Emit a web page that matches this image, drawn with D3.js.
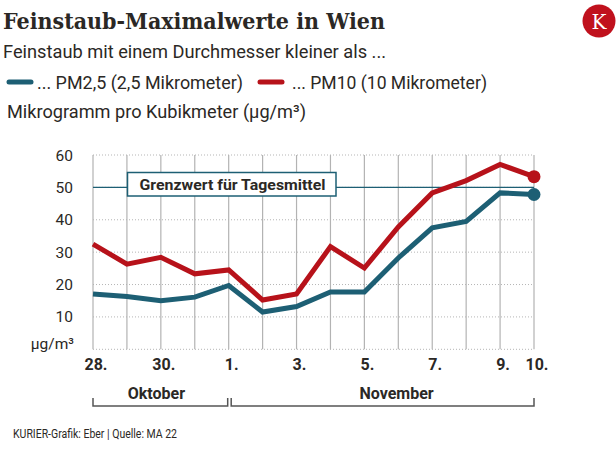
<!DOCTYPE html>
<html><head><meta charset="utf-8">
<script src="https://cdn.jsdelivr.net/npm/d3@7/dist/d3.min.js"></script>
<style>
html,body{margin:0;padding:0;background:#fff;}
svg{display:block;}
</style></head>
<body>
<svg id="chart" width="616" height="450"></svg>
<script>
const days = ["28.","29.","30.","31.","1.","2.","3.","4.","5.","6.","7.","8.","9.","10."];
const labeledDays = ["28.","30.","1.","3.","5.","7.","9.","10."];
const pm25 = [17.1, 16.3, 15.0, 16.1, 19.7, 11.5, 13.2, 17.7, 17.7, 28.2, 37.5, 39.5, 48.3, 47.8];
const pm10 = [32.5, 26.3, 28.4, 23.3, 24.5, 15.2, 17.1, 31.7, 25.1, 37.8, 48.3, 52.1, 57.1, 53.3];
const yTicks = [10, 20, 30, 40, 50, 60];
const limitValue = 50;
const months = [{name:"Oktober", from:0, to:4}, {name:"November", from:4, to:13}];

const TEAL = "#1d5f74", RED = "#b7121a", TXT = "#2b2825";
const svg = d3.select("#chart");

const x = d3.scalePoint().domain(d3.range(days.length)).range([93, 534]);
const y = d3.scaleLinear().domain([0, 60]).range([349.3, 155]);

function fitText(sel, w){ sel.attr("textLength", w).attr("lengthAdjust", "spacingAndGlyphs"); return sel; }

// Header
fitText(svg.append("text").attr("x", 3).attr("y", 29)
  .attr("font-family", "DejaVu Serif").attr("font-weight", "bold").attr("font-size", 22.5)
  .attr("fill", TXT).text("Feinstaub-Maximalwerte in Wien"), 382);
fitText(svg.append("text").attr("x", 3).attr("y", 58)
  .attr("font-family", "Roboto").attr("font-size", 18.5).attr("fill", TXT)
  .text("Feinstaub mit einem Durchmesser kleiner als ..."), 383);

// logo
svg.append("circle").attr("cx", 599).attr("cy", 21).attr("r", 16.5).attr("fill", "#c0111d");
svg.append("text").attr("x", 599).attr("y", 28.5).attr("text-anchor", "middle")
  .attr("font-family", "DejaVu Serif").attr("font-size", 20).attr("fill", "#fff").text("K");

// legend
const legend = [{label:"... PM2,5 (2,5 Mikrometer)", color:TEAL, x0:7, tx:37, w:206},
                {label:"... PM10 (10 Mikrometer)", color:RED, x0:258, tx:292, w:195}];
legend.forEach(l => {
  svg.append("line").attr("x1", l.x0 + 2).attr("x2", l.x0 + 24).attr("y1", 82).attr("y2", 82)
    .attr("stroke", l.color).attr("stroke-width", 5).attr("stroke-linecap", "round");
  fitText(svg.append("text").attr("x", l.tx).attr("y", 89)
    .attr("font-family", "Roboto").attr("font-size", 18.5).attr("fill", TXT).text(l.label), l.w);
});
fitText(svg.append("text").attr("x", 7).attr("y", 118)
  .attr("font-family", "Roboto").attr("font-size", 18.5).attr("fill", TXT)
  .text("Mikrogramm pro Kubikmeter (µg/m³)"), 299);

// grid
const g = svg.append("g");
g.selectAll(".hg").data([0].concat(yTicks)).join("line")
  .attr("x1", x(0)).attr("x2", x(days.length - 1))
  .attr("y1", d => y(d)).attr("y2", d => y(d))
  .attr("stroke", "#b5b5b5").attr("stroke-width", 1).attr("stroke-dasharray", "1,2");
g.selectAll(".vg").data(d3.range(days.length)).join("line")
  .attr("x1", d => x(d)).attr("x2", d => x(d))
  .attr("y1", y(60)).attr("y2", y(0))
  .attr("stroke", "#b3b3b3").attr("stroke-width", 1.2);

// y axis labels
g.selectAll(".yl").data(yTicks).join("text")
  .attr("x", 73).attr("y", d => y(d) + 5.5).attr("text-anchor", "end")
  .attr("font-family", "Roboto").attr("font-size", 15.5).attr("fill", TXT).text(d => d);
g.append("text").attr("x", 74).attr("y", 349).attr("text-anchor", "end")
  .attr("font-family", "Roboto").attr("font-size", 15.5).attr("fill", TXT).text("µg/m³");

// x labels
g.selectAll(".xl").data(d3.range(days.length).filter(i => labeledDays.includes(days[i]))).join("text")
  .attr("x", i => x(i) + 3).attr("y", 370).attr("text-anchor", "middle")
  .attr("font-family", "Roboto").attr("font-weight", "bold").attr("font-size", 16)
  .attr("fill", TXT).text(i => days[i]);

// limit line
g.append("line").attr("x1", x(0)).attr("x2", x(days.length - 1))
  .attr("y1", y(limitValue)).attr("y2", y(limitValue))
  .attr("stroke", TEAL).attr("stroke-width", 1.2);
g.append("rect").attr("x", 127.5).attr("y", 172.5).attr("width", 208.5).attr("height", 23.5)
  .attr("fill", "#fff").attr("stroke", TEAL).attr("stroke-width", 1.5);
fitText(g.append("text").attr("x", 139.5).attr("y", 190)
  .attr("font-family", "Roboto").attr("font-weight", "bold").attr("font-size", 15.5)
  .attr("fill", TXT).text("Grenzwert für Tagesmittel"), 186);

// lines
const line = d3.line().x((d, i) => x(i)).y(d => y(d));
[[pm10, RED], [pm25, TEAL]].forEach(([data, c]) => {
  g.append("path").datum(data).attr("d", line).attr("fill", "none")
    .attr("stroke", c).attr("stroke-width", 5).attr("stroke-linejoin", "miter");
  g.append("circle").attr("cx", x(data.length - 1)).attr("cy", y(data[data.length - 1]))
    .attr("r", 6.5).attr("fill", c);
});

// month brackets
months.forEach((m, k) => {
  const x0 = x(m.from) + (k > 0 ? 2.5 : 0), x1 = x(m.to) - (k < months.length - 1 ? 1 : 0);
  g.append("path").attr("d", `M${x0},398V406H${x1}V398`).attr("fill", "none")
    .attr("stroke", "#555").attr("stroke-width", 1.5);
  g.append("text").attr("x", (x0 + x1) / 2 + (k === 0 ? -4 : 14)).attr("y", 399).attr("text-anchor", "middle")
    .attr("font-family", "Roboto").attr("font-weight", "bold").attr("font-size", 16)
    .attr("fill", TXT).text(m.name);
});

// footer
fitText(svg.append("text").attr("x", 13).attr("y", 438)
  .attr("font-family", "Roboto").attr("font-size", 12).attr("fill", TXT)
  .text("KURIER-Grafik: Eber | Quelle: MA 22"), 164);
</script>
</body></html>
